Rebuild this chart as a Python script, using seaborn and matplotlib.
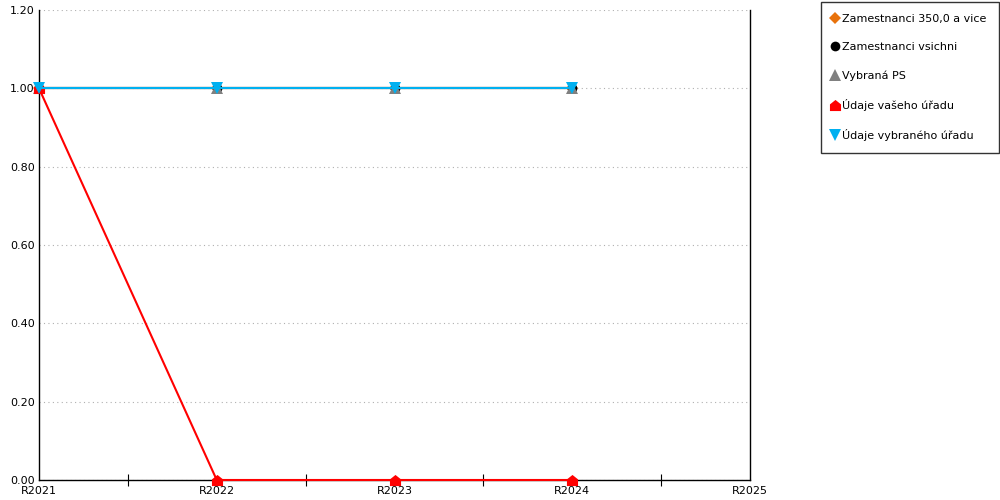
import numpy as np
import pandas as pd
import matplotlib
matplotlib.use('Agg')
import matplotlib.pyplot as plt
from matplotlib.lines import Line2D
from matplotlib.path import Path
import seaborn as sns

sns.set_style('white')
plt.rcParams['font.family'] = ['DejaVu Sans']
plt.rcParams['text.color'] = 'black'
plt.rcParams['xtick.color'] = 'black'
plt.rcParams['ytick.color'] = 'black'

# data
years = ['R2021', 'R2022', 'R2023', 'R2024']
axis_labels = ['R2021', 'R2022', 'R2023', 'R2024', 'R2025']
zam_350 = [1.0, 1.0, 1.0, 1.0]
zam_vsichni = [1.0, 1.0, 1.0, 1.0]
vybrana_ps = [1.0, 1.0, 1.0, 1.0]
vas_urad = [1.0, 0.0, 0.0, 0.0]
vybrany_urad = [1.0, 1.0, 1.0, 1.0]

names = ['Zamestnanci 350,0 a vice', 'Zamestnanci vsichni', 'Vybraná PS',
         'Údaje vašeho úřadu', 'Údaje vybraného úřadu']
series = [zam_350, zam_vsichni, vybrana_ps, vas_urad, vybrany_urad]
colors = ['#E8720C', '#000000', '#808080', '#FF0000', '#00B0F0']

# house-shaped marker for "vas urad"
house = Path([(-1, -1), (1, -1), (1, 0.2), (0, 1), (-1, 0.2), (-1, -1)],
             [Path.MOVETO, Path.LINETO, Path.LINETO, Path.LINETO, Path.LINETO, Path.CLOSEPOLY])
markers = ['D', 'o', '^', house, 'v']
msizes = [6, 7, 8, 8, 8]

rows = []
for n, s in zip(names, series):
    for i, v in enumerate(s):
        rows.append({'serie': n, 'x': i, 'value': v})
df = pd.DataFrame(rows)

fig = plt.figure(figsize=(10, 5), dpi=100)
ax = fig.add_axes([0.039, 0.04, 0.711, 0.94])

for n, c, m, ms in zip(names, colors, markers, msizes):
    sns.lineplot(data=df[df['serie'] == n], x='x', y='value', ax=ax, color=c,
                 marker=m, markersize=ms, markeredgewidth=0, linewidth=1.5,
                 legend=False, zorder=3, clip_on=False)

ax.set_xlim(0, 4)
ax.set_ylim(0, 1.2)
ax.set_xticks(range(len(axis_labels)))
ax.set_xticklabels(axis_labels, fontsize=8)
ax.set_xticks([0.5, 1.5, 2.5, 3.5], minor=True)
ax.tick_params(axis='x', which='major', bottom=True, length=0, pad=4)
ax.tick_params(axis='x', which='minor', bottom=True, length=8, direction='inout',
               color='black', width=0.8)
ax.set_yticks(np.arange(0, 1.21, 0.2))
ax.set_yticklabels([f'{v:.2f}' for v in np.arange(0, 1.21, 0.2)], fontsize=8)
ax.tick_params(axis='y', length=0, pad=3)
ax.yaxis.grid(True, linestyle=(0, (1, 3)), color='#b0b0b0', linewidth=0.8)
ax.set_axisbelow(True)
ax.set_xlabel('')
ax.set_ylabel('')
for side in ['left', 'right', 'bottom']:
    ax.spines[side].set_visible(True)
    ax.spines[side].set_color('black')
    ax.spines[side].set_linewidth(1)
ax.spines['top'].set_visible(False)

handles = [Line2D([], [], linestyle='none', marker=m, color=c, markersize=ms, markeredgewidth=0)
           for c, m, ms in zip(colors, markers, msizes)]
leg = fig.legend(handles, names, loc='upper left', bbox_to_anchor=(0.821, 0.996),
                 fontsize=8.0, frameon=True, fancybox=False, labelspacing=1.62,
                 handletextpad=0.4, handlelength=0.4, borderpad=1.1, borderaxespad=0)
leg.get_frame().set_edgecolor('black')
leg.get_frame().set_linewidth(1)

fig.savefig('out.png', dpi=100)
